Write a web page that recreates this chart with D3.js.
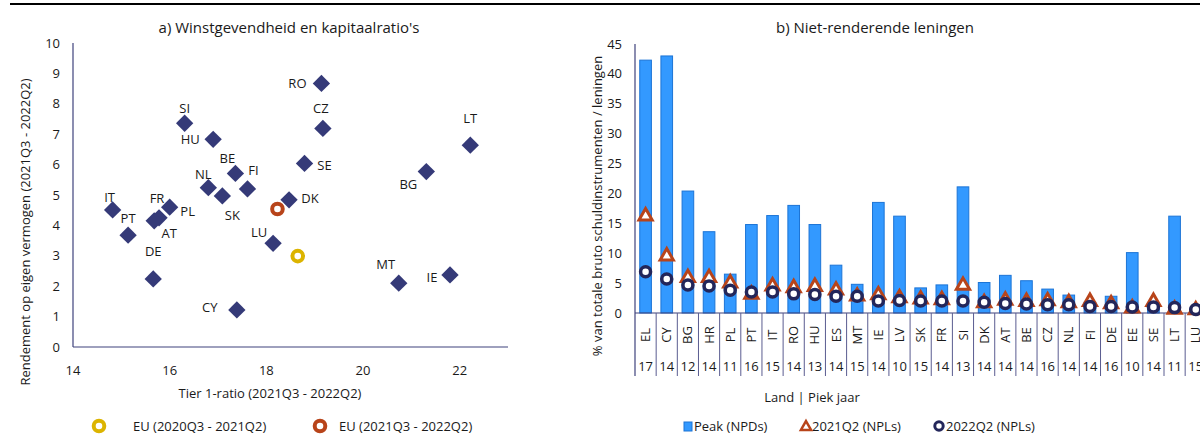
<!DOCTYPE html>
<html>
<head>
<meta charset="utf-8">
<script src="https://cdn.jsdelivr.net/npm/d3@7/dist/d3.min.js"></script>
<style>
  body { margin: 0; background: #fff; }
  text { font-family: 'Open Sans', sans-serif; fill: #1a1a1a; }
</style>
</head>
<body>
<div id="chart"></div>
<script>
// ---- panel a: scatter ----
var countries = ["RO","CZ","LT","BG","SE","SI","HU","BE","FI","NL","SK","DK","IT","PL","FR","AT","PT","DE","CY","LU","MT","IE"];
var tier1 = [19.14,19.17,22.22,21.31,18.79,16.31,16.90,17.36,17.61,16.80,17.09,18.47,14.82,16.0,15.78,15.68,15.14,15.66,17.39,18.14,20.74,21.80];
var roe = [8.67,7.19,6.64,5.77,6.04,7.36,6.83,5.71,5.20,5.24,4.97,4.84,4.51,4.6,4.25,4.15,3.68,2.24,1.22,3.41,2.10,2.37];
var euNames = ["EU (2020Q3 - 2021Q2)","EU (2021Q3 - 2022Q2)"];
var euTier1 = [18.65,18.23];
var euRoe = [2.99,4.54];

// ---- panel b: bars + markers ----
var lands = ["EL","CY","BG","HR","PL","PT","IT","RO","HU","ES","MT","IE","LV","SK","FR","SI","DK","AT","BE","CZ","NL","FI","DE","EE","SE","LT","LU"];
var peakYears = ["17","14","12","14","11","16","15","14","13","14","15","14","10","15","14","13","14","14","14","16","14","14","16","10","14","11","15"];
var peakNPD = [42.3,43.0,20.4,13.6,6.5,14.8,16.3,18.0,14.8,8.0,4.8,18.5,16.2,4.2,4.7,21.1,5.1,6.3,5.4,4.0,3.0,1.8,2.8,10.1,1.5,16.2,0.8];
var npl2021 = [16.2,9.5,5.9,5.9,5.0,3.1,4.5,4.2,4.4,3.8,2.8,3.0,2.5,2.3,2.2,4.6,1.7,2.1,1.9,2.0,1.7,1.9,1.5,0.8,1.9,0.6,0.5];
var npl2022 = [6.9,5.7,4.7,4.5,3.8,3.5,3.5,3.2,3.1,2.8,2.8,2.0,2.1,2.0,2.0,2.0,1.8,1.6,1.5,1.4,1.4,1.1,1.1,1.0,1.0,0.9,0.6];

var W = 1200, H = 435;
var svg = d3.select("#chart").append("svg").attr("width", W).attr("height", H);

var axisColor = "#3e427c";
var navy = "#353a78";
var yellow = "#dcb400";
var rust = "#b8441a";
var dark = "#23265a";

// top rule
svg.append("line").attr("x1", 10).attr("x2", W).attr("y1", 4).attr("y2", 4)
  .attr("stroke", "#000").attr("stroke-width", 2);

// ================= panel a =================
var xa = d3.scaleLinear().domain([14, 23]).range([73, 508]);
var ya = d3.scaleLinear().domain([0, 10]).range([347, 43]);

svg.append("text").attr("x", 289).attr("y", 33).attr("text-anchor", "middle")
  .style("font-size", "15px").text("a) Winstgevendheid en kapitaalratio's");

var gA = svg.append("g");
gA.append("line").attr("x1", xa(14)).attr("x2", xa(14)).attr("y1", ya(10)).attr("y2", ya(0))
  .attr("stroke", axisColor).attr("stroke-width", 1.2);
gA.append("line").attr("x1", xa(14)).attr("x2", xa(23)).attr("y1", ya(0)).attr("y2", ya(0))
  .attr("stroke", axisColor).attr("stroke-width", 1.2);

gA.selectAll(".yt").data(d3.range(0, 11)).enter().append("text")
  .attr("x", 60).attr("y", function (d) { return ya(d); }).attr("dy", "0.35em")
  .attr("text-anchor", "end").style("font-size", "13px").text(function (d) { return d; });
gA.selectAll(".xt").data([14, 16, 18, 20, 22]).enter().append("text")
  .attr("x", function (d) { return xa(d); }).attr("y", 370).attr("dy", "0.35em")
  .attr("text-anchor", "middle").style("font-size", "13px").text(function (d) { return d; });

svg.append("text").attr("x", 270).attr("y", 393).attr("dy", "0.35em").attr("text-anchor", "middle")
  .style("font-size", "13px").text("Tier 1-ratio (2021Q3 - 2022Q2)");
svg.append("text").attr("transform", "translate(25,232) rotate(-90)").attr("dy", "0.35em")
  .attr("text-anchor", "middle")
  .style("font-size", "13px").text("Rendement op eigen vermogen (2021Q3 - 2022Q2)");

// label offsets relative to each diamond
var labelOff = {
  RO: [-24, 0], CZ: [-2, -20], LT: [0, -27], BG: [-18, 13], SE: [20, 2], SI: [0, -15],
  HU: [-23, 0], BE: [-8, -15], FI: [6, -18], NL: [-5, -13], SK: [10, 20], DK: [21, -1],
  IT: [-3, -12], PL: [18, 4], FR: [-2, -19], AT: [15, 13], PT: [0, -17], DE: [0, -27],
  CY: [-27, -2], LU: [-14, -11], MT: [-13, -19], IE: [-18, 2]
};

var diamond = d3.symbol().type(d3.symbolSquare).size(150);
countries.forEach(function (c, i) {
  gA.append("path").attr("d", diamond)
    .attr("transform", "translate(" + xa(tier1[i]) + "," + ya(roe[i]) + ") rotate(45)")
    .attr("fill", navy);
});
countries.forEach(function (c, i) {
  var o = labelOff[c];
  gA.append("text").attr("x", xa(tier1[i]) + o[0]).attr("y", ya(roe[i]) + o[1])
    .attr("dy", "0.35em").attr("text-anchor", "middle").style("font-size", "13px").text(c);
});
var euColors = [yellow, rust];
euNames.forEach(function (n, i) {
  gA.append("circle").attr("cx", xa(euTier1[i])).attr("cy", ya(euRoe[i])).attr("r", 5.3)
    .attr("fill", "#fff").attr("stroke", euColors[i]).attr("stroke-width", 4);
});

// legend a
var legA = [[99, 133], [320, 339]];
euNames.forEach(function (n, i) {
  svg.append("circle").attr("cx", legA[i][0]).attr("cy", 426).attr("r", 5.3)
    .attr("fill", "#fff").attr("stroke", euColors[i]).attr("stroke-width", 4);
  svg.append("text").attr("x", legA[i][1]).attr("y", 426).attr("dy", "0.35em")
    .style("font-size", "13px").text(n);
});

// ================= panel b =================
var xb = d3.scaleBand().domain(lands).range([635, 635 + 21.16 * lands.length]).paddingInner(0.45).paddingOuter(0.225);
var yb = d3.scaleLinear().domain([0, 45]).range([313, 44]);

svg.append("text").attr("x", 875).attr("y", 33).attr("text-anchor", "middle")
  .style("font-size", "15px").text("b) Niet-renderende leningen");

var gB = svg.append("g");
gB.selectAll(".yt").data(d3.range(0, 46, 5)).enter().append("text")
  .attr("x", 622).attr("y", function (d) { return yb(d); }).attr("dy", "0.35em")
  .attr("text-anchor", "end").style("font-size", "13px").text(function (d) { return d; });

gB.append("line").attr("x1", 635).attr("x2", 635).attr("y1", yb(45)).attr("y2", 376)
  .attr("stroke", axisColor).attr("stroke-width", 1.2);

gB.selectAll(".bar").data(lands).enter().append("rect")
  .attr("x", function (d) { return xb(d); })
  .attr("y", function (d, i) { return yb(peakNPD[i]); })
  .attr("width", xb.bandwidth())
  .attr("height", function (d, i) { return yb(0) - yb(peakNPD[i]); })
  .attr("fill", "#3399ff").attr("stroke", "#1c74d6").attr("stroke-width", 1);

gB.append("line").attr("x1", 635).attr("x2", W).attr("y1", yb(0)).attr("y2", yb(0))
  .attr("stroke", axisColor).attr("stroke-width", 1.2);

var step = xb.step();
lands.forEach(function (d, i) {
  var x1 = xb(d) - xb.paddingOuter() * step + step;
  gB.append("line").attr("x1", x1).attr("x2", x1).attr("y1", yb(0)).attr("y2", 376)
    .attr("stroke", "#5a5c90").attr("stroke-width", 1);
});

var tri = d3.symbol().type(d3.symbolTriangle).size(75);
lands.forEach(function (d, i) {
  var cx = xb(d) + xb.bandwidth() / 2;
  gB.append("path").attr("d", tri).attr("transform", "translate(" + cx + "," + yb(npl2021[i]) + ")")
    .attr("fill", "#fff").attr("stroke", rust).attr("stroke-width", 3);
});
lands.forEach(function (d, i) {
  var cx = xb(d) + xb.bandwidth() / 2;
  gB.append("circle").attr("cx", cx).attr("cy", yb(npl2022[i])).attr("r", 5)
    .attr("fill", "#fff").attr("stroke", dark).attr("stroke-width", 3.5);
});

lands.forEach(function (d, i) {
  var cx = xb(d) + xb.bandwidth() / 2;
  gB.append("text").attr("transform", "translate(" + cx + ",335) rotate(-90)")
    .attr("dy", "0.35em").attr("text-anchor", "middle").style("font-size", "13px").text(d);
  gB.append("text").attr("x", cx).attr("y", 366).attr("dy", "0.35em")
    .attr("text-anchor", "middle").style("font-size", "13px").text(peakYears[i]);
});

svg.append("text").attr("x", 812).attr("y", 397).attr("dy", "0.35em").attr("text-anchor", "middle")
  .style("font-size", "13px").text("Land | Piek jaar");
svg.append("text").attr("transform", "translate(597,206) rotate(-90)").attr("dy", "0.35em")
  .attr("text-anchor", "middle").style("font-size", "13px")
  .text("% van totale bruto schuldinstrumenten / leningen");

// legend b
svg.append("rect").attr("x", 684).attr("y", 422).attr("width", 8).attr("height", 9)
  .attr("fill", "#3399ff").attr("stroke", "#1c74d6");
svg.append("text").attr("x", 694).attr("y", 426).attr("dy", "0.35em").style("font-size", "13px").text("Peak (NPDs)");
svg.append("path").attr("d", d3.symbol().type(d3.symbolTriangle).size(45))
  .attr("transform", "translate(806,427)").attr("fill", "#fff").attr("stroke", rust).attr("stroke-width", 2.5);
svg.append("text").attr("x", 812).attr("y", 426).attr("dy", "0.35em").style("font-size", "13px").text("2021Q2 (NPLs)");
svg.append("circle").attr("cx", 939).attr("cy", 426).attr("r", 4.2)
  .attr("fill", "#fff").attr("stroke", dark).attr("stroke-width", 3);
svg.append("text").attr("x", 946).attr("y", 426).attr("dy", "0.35em").style("font-size", "13px").text("2022Q2 (NPLs)");
</script>
</body>
</html>
